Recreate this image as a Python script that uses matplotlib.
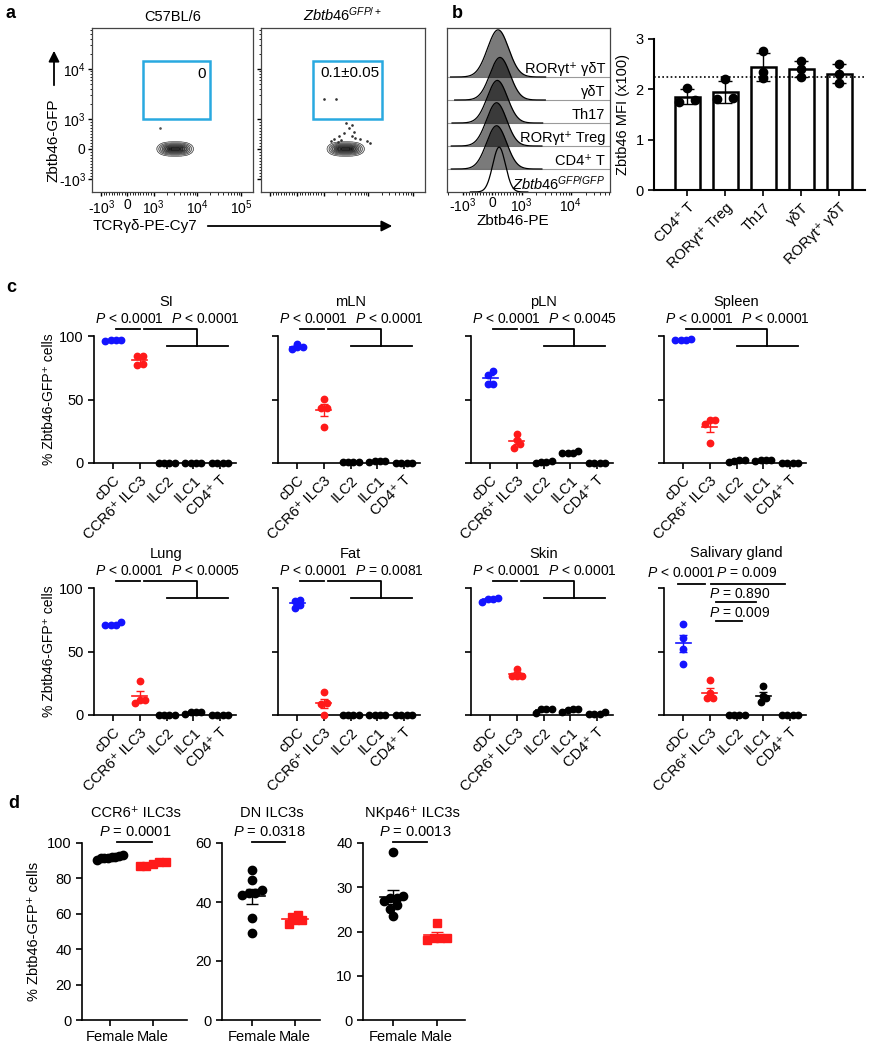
import numpy as np
import matplotlib
matplotlib.use("Agg")
import matplotlib.pyplot as plt
from matplotlib import font_manager
from matplotlib.patches import FancyArrowPatch, Rectangle
from matplotlib.ticker import FixedLocator
import matplotlib.transforms as mtransforms

plt.rcParams['font.family'] = ['Liberation Sans', 'DejaVu Sans']
plt.rcParams['mathtext.fontset'] = 'custom'
plt.rcParams['mathtext.rm'] = 'Liberation Sans'
plt.rcParams['mathtext.it'] = 'Liberation Sans:italic'
plt.rcParams['mathtext.bf'] = 'Liberation Sans:bold'
plt.rcParams['font.size'] = 10
plt.rcParams['axes.linewidth'] = 1.2
plt.rcParams['xtick.major.width'] = 1.2
plt.rcParams['ytick.major.width'] = 1.2
plt.rcParams['xtick.major.size'] = 4
plt.rcParams['ytick.major.size'] = 4

# panel d of the original is squeezed sideways: use a narrow face there if we have one
try:
    font_manager.findfont('Liberation Sans Narrow', fallback_to_default=False)
    NARROW = ['Liberation Sans Narrow', 'DejaVu Sans']
    d_fs = 11
except Exception:
    NARROW = ['Liberation Sans', 'DejaVu Sans']
    d_fs = 10.5

BLUE = '#1414ff'
RED = '#ff1a1a'

# ---------------- data ----------------
# panel a (flow plots)
flow_titles = ['C57BL/6', r'$\mathit{Zbtb46}^{\mathit{GFP/+}}$']
gate_labels = ['0', '0.1±0.05']
gate_x = (615, 20000)
gate_y = (1000, 14500)
blob_x = (950, 10500)
blob_y = (-240, 240)
left_dots_x = [1380]
left_dots_y = [690]
right_dots_x = [3240, 4240, 2920, 2230, 4730, 4980, 1710, 2490, 6530, 9480, 3620, 2120, 1450, 11100, 4240, 1000, 1900]
right_dots_y = [862, 793, 517, 448, 552, 379, 345, 310, 345, 276, 690, 241, 276, 207, 448, 2510, 2510]

# panel b histograms (top to bottom)
hist_labels = ['RORγt⁺ γδT', 'γδT', 'Th17', 'RORγt⁺ Treg', 'CD4⁺ T', r'$\mathit{Zbtb46}^{\mathit{GFP/GFP}}$']
hist_peak = [200, 265, 175, 150, 150, 235]
hist_width = [215, 205, 205, 205, 205, 130]
hist_height = [2.05, 1.85, 1.85, 1.88, 1.88, 1.95]

# panel b bars
mfi_groups = ['CD4⁺ T', 'RORγt⁺ Treg', 'Th17', 'γδT', 'RORγt⁺ γδT']
mfi_vals = [[2.02, 1.75, 1.78], [2.2, 1.8, 1.83], [2.76, 2.35, 2.22], [2.57, 2.4, 2.25], [2.5, 2.3, 2.13]]
mfi_dx = [[0, -0.2, 0.2], [0, -0.2, 0.2], [0, 0, 0], [0, 0, 0], [0, 0, 0]]
mfi_ref = 2.24

# panel c
c_groups = ['cDC', 'CCR6⁺ ILC3', 'ILC2', 'ILC1', 'CD4⁺ T']
c_tissues = ['SI', 'mLN', 'pLN', 'Spleen', 'Lung', 'Fat', 'Skin', 'Salivary gland']
si = [[96, 97, 96.5, 96.5], [84, 77.5, 78, 84], [0, 0, 0, 0], [0, 0, 0, 0], [0, 0, 0, 0]]
mln = [[94, 89.5, 91.5, 91.5], [50.5, 43.5, 43.5, 28.5], [0.5, 0.8, 1, 1], [1, 1.5, 1.2, 1.8], [0, 0, 0, 0]]
pln = [[72.5, 69.5, 62.5, 62], [22.5, 18.5, 15, 12], [1.5, 0.5, 0.5, 0.3], [9.5, 7.5, 7.5, 7.5], [0, 0, 0, 0]]
spleen = [[97.5, 97, 97, 97], [34, 34, 30.5, 16], [0.8, 1.8, 2.1, 2], [1.5, 2, 2, 2], [0, 0, 0, 0]]
lung = [[70.5, 73, 71, 71], [27, 9.5, 11.5, 12], [0, 0, 0, 0], [2, 0.5, 2.6, 2.6], [0, 0, 0, 0]]
fat = [[90.5, 89.5, 84.5, 87], [18, 9, 9.5, 0], [0, 0, 0, 0], [0, 0, 0, 0], [0, 0, 0, 0]]
skin = [[89, 91.5, 92, 91.5], [36.5, 31, 31, 31], [1.8, 4.5, 4.5, 4.7], [2.5, 4.5, 4.3, 4.5], [0.5, 2, 0.5, 0.5]]
salivary = [[72, 61, 52, 40.5], [27.5, 17, 13, 13], [0, 0, 0, 0], [22.5, 15, 13, 10.5], [0, 0, 0, 0]]
c_data = [si, mln, pln, spleen, lung, fat, skin, salivary]
c_pvals = [('< 0.0001', '< 0.0001'), ('< 0.0001', '< 0.0001'), ('< 0.0001', '< 0.0045'),
           ('< 0.0001', '< 0.0001'), ('< 0.0001', '< 0.0005'), ('< 0.0001', '= 0.0081'),
           ('< 0.0001', '< 0.0001')]
salivary_pvals = ['< 0.0001', '= 0.009', '= 0.890', '= 0.009']

# panel d
d_titles = ['CCR6⁺ ILC3s', 'DN ILC3s', 'NKp46⁺ ILC3s']
d_female = [[93, 92.5, 92, 91.5, 91.5, 90.5, 92, 91.5],
            [51, 47.5, 44, 43, 43, 42.5, 34.5, 29.5],
            [38, 28, 27.5, 27.5, 27, 26, 25, 23.5]]
d_male = [[89.5, 89.5, 88, 87, 87], [35.5, 35, 34, 34, 32.5], [22, 18.5, 18.5, 18, 18.5]]
d_pvals = ['= 0.0001', '= 0.0318', '= 0.0013']
d_ymax = [100, 60, 40]
d_ystep = [20, 20, 10]

# ---------------- helpers ----------------
W, H = 874, 1050
fig = plt.figure(figsize=(W / 100, H / 100), dpi=100)


def box(x0, y0, x1, y1):
    return fig.add_axes([x0 / W, 1 - y1 / H, (x1 - x0) / W, (y1 - y0) / H])


def ftext(x, y, s, **kw):
    fig.text(x / W, 1 - y / H, s, **kw)


def farrow(p0, p1):
    a = FancyArrowPatch((p0[0] / W, 1 - p0[1] / H), (p1[0] / W, 1 - p1[1] / H),
                        transform=fig.transFigure, arrowstyle='-|>', mutation_scale=16,
                        lw=1.3, color='k')
    fig.add_artist(a)


def spread(vals, thr, step=0.2, half=0.3):
    vals = np.asarray(vals, float)
    order = np.argsort(vals, kind='stable')
    offs = np.zeros(len(vals))
    clusters, cur = [], [order[0]]
    for i in order[1:]:
        if vals[i] - vals[cur[0]] < thr:
            cur.append(i)
        else:
            clusters.append(cur)
            cur = [i]
    clusters.append(cur)
    for g in clusters:
        n = len(g)
        if n > 1:
            st = min(step, 2 * half / (n - 1))
            offs[g] = (np.arange(n) - (n - 1) / 2) * st
    return offs


def sym_minor(lo, hi):
    t = list(np.arange(-900, 1000, 100))
    for d in range(3, 6):
        for k in range(2, 10):
            t.append(k * 10 ** d)
            t.append(-k * 10 ** d)
    return [v for v in t if lo <= v <= hi and v != 0]


def mean_sem(ax, i, vals, col, half=0.28, lw=1.3, cap=3.5):
    vals = np.asarray(vals, float)
    m = vals.mean()
    sem = vals.std(ddof=1) / np.sqrt(len(vals))
    ax.plot([i - half, i + half], [m, m], color=col, lw=lw, zorder=2, clip_on=False)
    ax.errorbar(i, m, yerr=sem, color=col, lw=1, capsize=cap, capthick=1, zorder=2, clip_on=False)


# ---------------- panel a ----------------
ftext(6, 13, 'a', fontsize=13, fontweight='bold', va='center')
flow_boxes = [(92, 28, 253, 192), (261, 28, 425, 192)]
xmaj = [-1000, 0, 1000, 10000, 100000]
xmaj_lab = [r'-$10^3$', '0', r'$10^3$', r'$10^4$', r'$10^5$']
ymaj = [-1000, 0, 1000, 10000]
ymaj_lab = [r'-$10^3$', '0', r'$10^3$', r'$10^4$']
for k, bx in enumerate(flow_boxes):
    ax = box(*bx)
    ax.set_xscale('symlog', linthresh=1000, linscale=0.54)
    ax.set_yscale('symlog', linthresh=1000, linscale=0.54)
    ax.set_xlim(-1620, 190000)
    ax.set_ylim(-1820, 66000)
    for s in ax.spines.values():
        s.set_linewidth(0.9)
        s.set_color('#444444')
    ax.xaxis.set_major_locator(FixedLocator(xmaj))
    ax.yaxis.set_major_locator(FixedLocator(ymaj))
    ax.xaxis.set_minor_locator(FixedLocator(sym_minor(-1620, 190000)))
    ax.yaxis.set_minor_locator(FixedLocator(sym_minor(-1820, 66000)))
    ax.tick_params(which='major', length=3, width=1, labelsize=10, pad=1.5)
    ax.tick_params(which='minor', length=1.8, width=0.6)
    if k == 0:
        ax.set_xticklabels(xmaj_lab)
        ax.set_yticklabels(ymaj_lab)
    else:
        ax.set_xticklabels([])
        ax.set_yticklabels([])
    # density contours drawn in the transformed space
    trx = ax.xaxis.get_transform()
    tr_y = ax.yaxis.get_transform()
    ux = trx.transform(np.array(blob_x, float))
    uy = tr_y.transform(np.array(blob_y, float))
    cx, sx = ux.mean(), (ux[1] - ux[0]) / 2 / 2.45
    cy, sy = uy.mean(), (uy[1] - uy[0]) / 2 / 2.45
    gu = np.linspace(cx - 3 * sx, cx + 3 * sx, 160)
    gv = np.linspace(cy - 3 * sy, cy + 3 * sy, 80)
    U, V = np.meshgrid(gu, gv)
    Z = np.exp(-((np.abs(U - cx) / sx) ** 3 / 2.5 + (V - cy) ** 2 / (2 * sy ** 2)))
    X = trx.inverted().transform(U.ravel()).reshape(U.shape)
    Y = tr_y.inverted().transform(V.ravel()).reshape(V.shape)
    lv = [0.05, 0.12, 0.22, 0.35, 0.5, 0.65, 0.8, 0.92]
    ax.contourf(X, Y, Z, levels=lv + [1.01], cmap='Greys', vmin=-0.2, vmax=1.0, alpha=0.85)
    ax.contour(X, Y, Z, levels=lv, colors='#333333', linewidths=0.45)
    if k == 0:
        ax.plot(left_dots_x, left_dots_y, 'o', ms=0.9, color='#555555')
    else:
        ax.plot(right_dots_x, right_dots_y, 'o', ms=0.9, color='#333333')
    ax.add_patch(Rectangle((gate_x[0], gate_y[0]), gate_x[1] - gate_x[0], gate_y[1] - gate_y[0],
                           fill=False, ec='#29a9e0', lw=1.8, zorder=5))
    if k == 0:
        ax.text(gate_x[1] * 0.8, gate_y[1] * 0.55, gate_labels[k], ha='right', va='center', fontsize=11)
    else:
        ax.text(3900, gate_y[1] * 0.58, gate_labels[k], ha='center', va='center', fontsize=11)
    ax.set_title(flow_titles[k], fontsize=10.5, pad=5)

ftext(54, 140, 'Zbtb46-GFP', rotation=90, ha='center', va='center', fontsize=11)
farrow((54, 88), (54, 48))
ftext(145, 226, 'TCRγδ-PE-Cy7', ha='center', va='center', fontsize=11)
farrow((205, 226), (395, 226))

# ---------------- panel b histograms ----------------
ftext(452, 13, 'b', fontsize=13, fontweight='bold', va='center')
axh = box(447, 28, 610, 192)
axh.set_xscale('symlog', linthresh=1000, linscale=0.54)
axh.set_xlim(-2090, 63000)
axh.set_ylim(0, 7.13)
for s in axh.spines.values():
    s.set_linewidth(0.9)
    s.set_color('#444444')
axh.set_yticks([])
axh.xaxis.set_major_locator(FixedLocator([-1000, 0, 1000, 10000]))
axh.set_xticklabels([r'-$10^3$', '0', r'$10^3$', r'$10^4$'])
axh.xaxis.set_minor_locator(FixedLocator(sym_minor(-2090, 63000)))
axh.tick_params(which='major', length=2.5, width=1, labelsize=10, pad=0.5)
axh.tick_params(which='minor', length=1.8, width=0.6)
trh = axh.xaxis.get_transform()
nrow = len(hist_labels)
for r in range(nrow):
    base = nrow - 1 - r
    cu = trh.transform(np.array([hist_peak[r]], float))[0]
    uu = np.linspace(cu - 4.5 * hist_width[r], cu + 4.5 * hist_width[r], 300)
    dens = np.exp(-(uu - cu) ** 2 / (2 * hist_width[r] ** 2))
    xx = trh.inverted().transform(uu)
    yy = base + hist_height[r] * dens
    if r < nrow - 1:
        axh.fill_between(xx, base, yy, color='black', alpha=0.52, lw=0, zorder=2 + r)
        axh.axhline(base, color='#9a9a9a', lw=0.8, zorder=1)
    axh.plot(xx, yy, color='black', lw=0.9, zorder=2 + r)
    axh.text(0.97, base + 0.35, hist_labels[r],
             transform=mtransforms.blended_transform_factory(axh.transAxes, axh.transData),
             ha='right', va='center', fontsize=10.5, zorder=20)
ftext(513, 221, 'Zbtb46-PE', ha='center', va='center', fontsize=11)

# ---------------- panel b bars ----------------
axb = box(654, 39, 865, 190)
xb = np.arange(len(mfi_groups))
means = [np.mean(v) for v in mfi_vals]
sds = [np.std(v, ddof=1) for v in mfi_vals]
axb.bar(xb, means, width=0.66, color='white', edgecolor='black', lw=1.8, zorder=2)
axb.errorbar(xb, means, yerr=sds, fmt='none', ecolor='black', elinewidth=1, capsize=5, capthick=1, zorder=3)
for i, v in enumerate(mfi_vals):
    axb.plot(i + np.array(mfi_dx[i]), v, 'o', color='black', ms=6, zorder=4)
axb.axhline(mfi_ref, color='black', ls=(0, (1, 1.5)), lw=1.2, zorder=5)
axb.set_xlim(-0.87, 4.68)
axb.set_ylim(0, 3)
axb.set_yticks([0, 1, 2, 3])
axb.set_xticks(xb)
axb.set_xticklabels(mfi_groups, rotation=45, ha='right', rotation_mode='anchor')
axb.tick_params(labelsize=10.5)
axb.spines['top'].set_visible(False)
axb.spines['right'].set_visible(False)
axb.spines['left'].set_linewidth(1.5)
axb.spines['bottom'].set_linewidth(1.5)
axb.set_ylabel('Zbtb46 MFI (x100)', fontsize=10.5, labelpad=4)

# ---------------- panel c ----------------
ftext(6, 287, 'c', fontsize=13, fontweight='bold', va='center')
c_lefts = [94, 278, 471, 664]
c_rows = [(336, 463), (588, 715)]
c_colors = [BLUE, RED, 'black', 'black', 'black']
for t, tissue in enumerate(c_tissues):
    r, c = divmod(t, 4)
    x0 = c_lefts[c]
    ax = box(x0, c_rows[r][0], x0 + 142, c_rows[r][1])
    ax.set_xlim(-0.72, 4.6)
    ax.set_ylim(0, 100)
    ax.spines['top'].set_visible(False)
    ax.spines['right'].set_visible(False)
    ax.set_yticks([0, 50, 100])
    ax.set_xticks(range(5))
    ax.set_xticklabels(c_groups, rotation=45, ha='right', rotation_mode='anchor')
    ax.tick_params(labelsize=10.5)
    if c == 0:
        ax.set_ylabel('% Zbtb46-GFP⁺ cells', fontsize=10, labelpad=2)
    else:
        ax.set_yticklabels([])
    for i, vals in enumerate(c_data[t]):
        mean_sem(ax, i, vals, c_colors[i], half=0.28, lw=1.2, cap=3)
        ax.plot(i + spread(vals, 4.0), vals, 'o', color=c_colors[i], ms=4.6, zorder=3, clip_on=False)
    kw = dict(color='black', lw=1.3, clip_on=False)
    if tissue != 'Salivary gland':
        ax.plot([0.1, 1.0], [105.5, 105.5], **kw)
        ax.plot([1.15, 3.15, 3.15], [105.5, 105.5, 92], **kw)
        ax.plot([2.0, 4.3], [92, 92], **kw)
        p1, p2 = c_pvals[t]
        ax.text(0.6, 113.5, r'$\mathit{P}$ ' + p1, ha='center', va='center', fontsize=10)
        ax.text(3.45, 113.5, r'$\mathit{P}$ ' + p2, ha='center', va='center', fontsize=10)
        ax.text(2.0, 127, tissue, ha='center', va='center', fontsize=10.5)
    else:
        ax.plot([-0.18, 0.8], [103, 103], **kw)
        ax.plot([1.05, 3.8], [103, 103], **kw)
        ax.plot([1.24, 2.73], [89, 89], **kw)
        ax.plot([1.24, 2.2], [74, 74], **kw)
        ax.text(-0.07, 111.5, r'$\mathit{P}$ ' + salivary_pvals[0], ha='center', va='center', fontsize=10)
        ax.text(2.36, 111.5, r'$\mathit{P}$ ' + salivary_pvals[1], ha='center', va='center', fontsize=10)
        ax.text(2.1, 95.5, r'$\mathit{P}$ ' + salivary_pvals[2], ha='center', va='center', fontsize=10)
        ax.text(2.1, 80, r'$\mathit{P}$ ' + salivary_pvals[3], ha='center', va='center', fontsize=10)
        ax.text(2.0, 127.5, tissue, ha='center', va='center', fontsize=10.5)

# ---------------- panel d ----------------
ftext(8, 804, 'd', fontsize=13, fontweight='bold', va='center')
d_boxes = [(82, 843, 187, 1020), (222, 843, 320, 1020), (363, 843, 465, 1020)]
d_xlims = [(-0.65, 1.8), (-0.7, 1.58), (-0.7, 1.65)]
d_line = [(0.16, 0.98), (0.0, 0.77), (0.0, 0.77)]
d_ptext_x = [0.6, 0.39, 0.5]
d_title_x = [0.62, 0.46, 0.43]
for k in range(3):
    ax = box(*d_boxes[k])
    ym = d_ymax[k]
    ax.set_xlim(*d_xlims[k])
    ax.set_ylim(0, ym)
    ax.spines['top'].set_visible(False)
    ax.spines['right'].set_visible(False)
    ax.set_yticks(np.arange(0, ym + 1, d_ystep[k]))
    ax.set_xticks([0, 1])
    ax.set_xticklabels(['Female', 'Male'])
    ax.tick_params(labelsize=d_fs)
    for lab in ax.get_xticklabels() + ax.get_yticklabels():
        lab.set_family(NARROW)
    thr = 0.03 * ym
    mean_sem(ax, 0, d_female[k], 'black', half=0.3, lw=1.2, cap=4)
    mean_sem(ax, 1, d_male[k], RED, half=0.3, lw=1.2, cap=4)
    ax.plot(0 + spread(d_female[k], thr, step=0.15), d_female[k], 'o', color='black', ms=6, zorder=3, clip_on=False)
    ax.plot(1 + spread(d_male[k], thr, step=0.15), d_male[k], 's', color=RED, ms=5.6, zorder=3, clip_on=False)
    ax.plot(d_line[k], [ym * 1.005] * 2, color='black', lw=1.3, clip_on=False)
    ax.text(d_ptext_x[k], ym * 1.06, r'$\mathit{P}$' + ' ' + d_pvals[k], ha='center', va='center',
            fontsize=d_fs, family=NARROW)
    ax.text(d_title_x[k], ym * 1.17, d_titles[k], ha='center', va='center', fontsize=d_fs, family=NARROW)
    if k == 0:
        ax.set_ylabel('% Zbtb46-GFP⁺ cells', fontsize=d_fs, labelpad=4, family=NARROW)

fig.savefig('out.png', dpi=100)
